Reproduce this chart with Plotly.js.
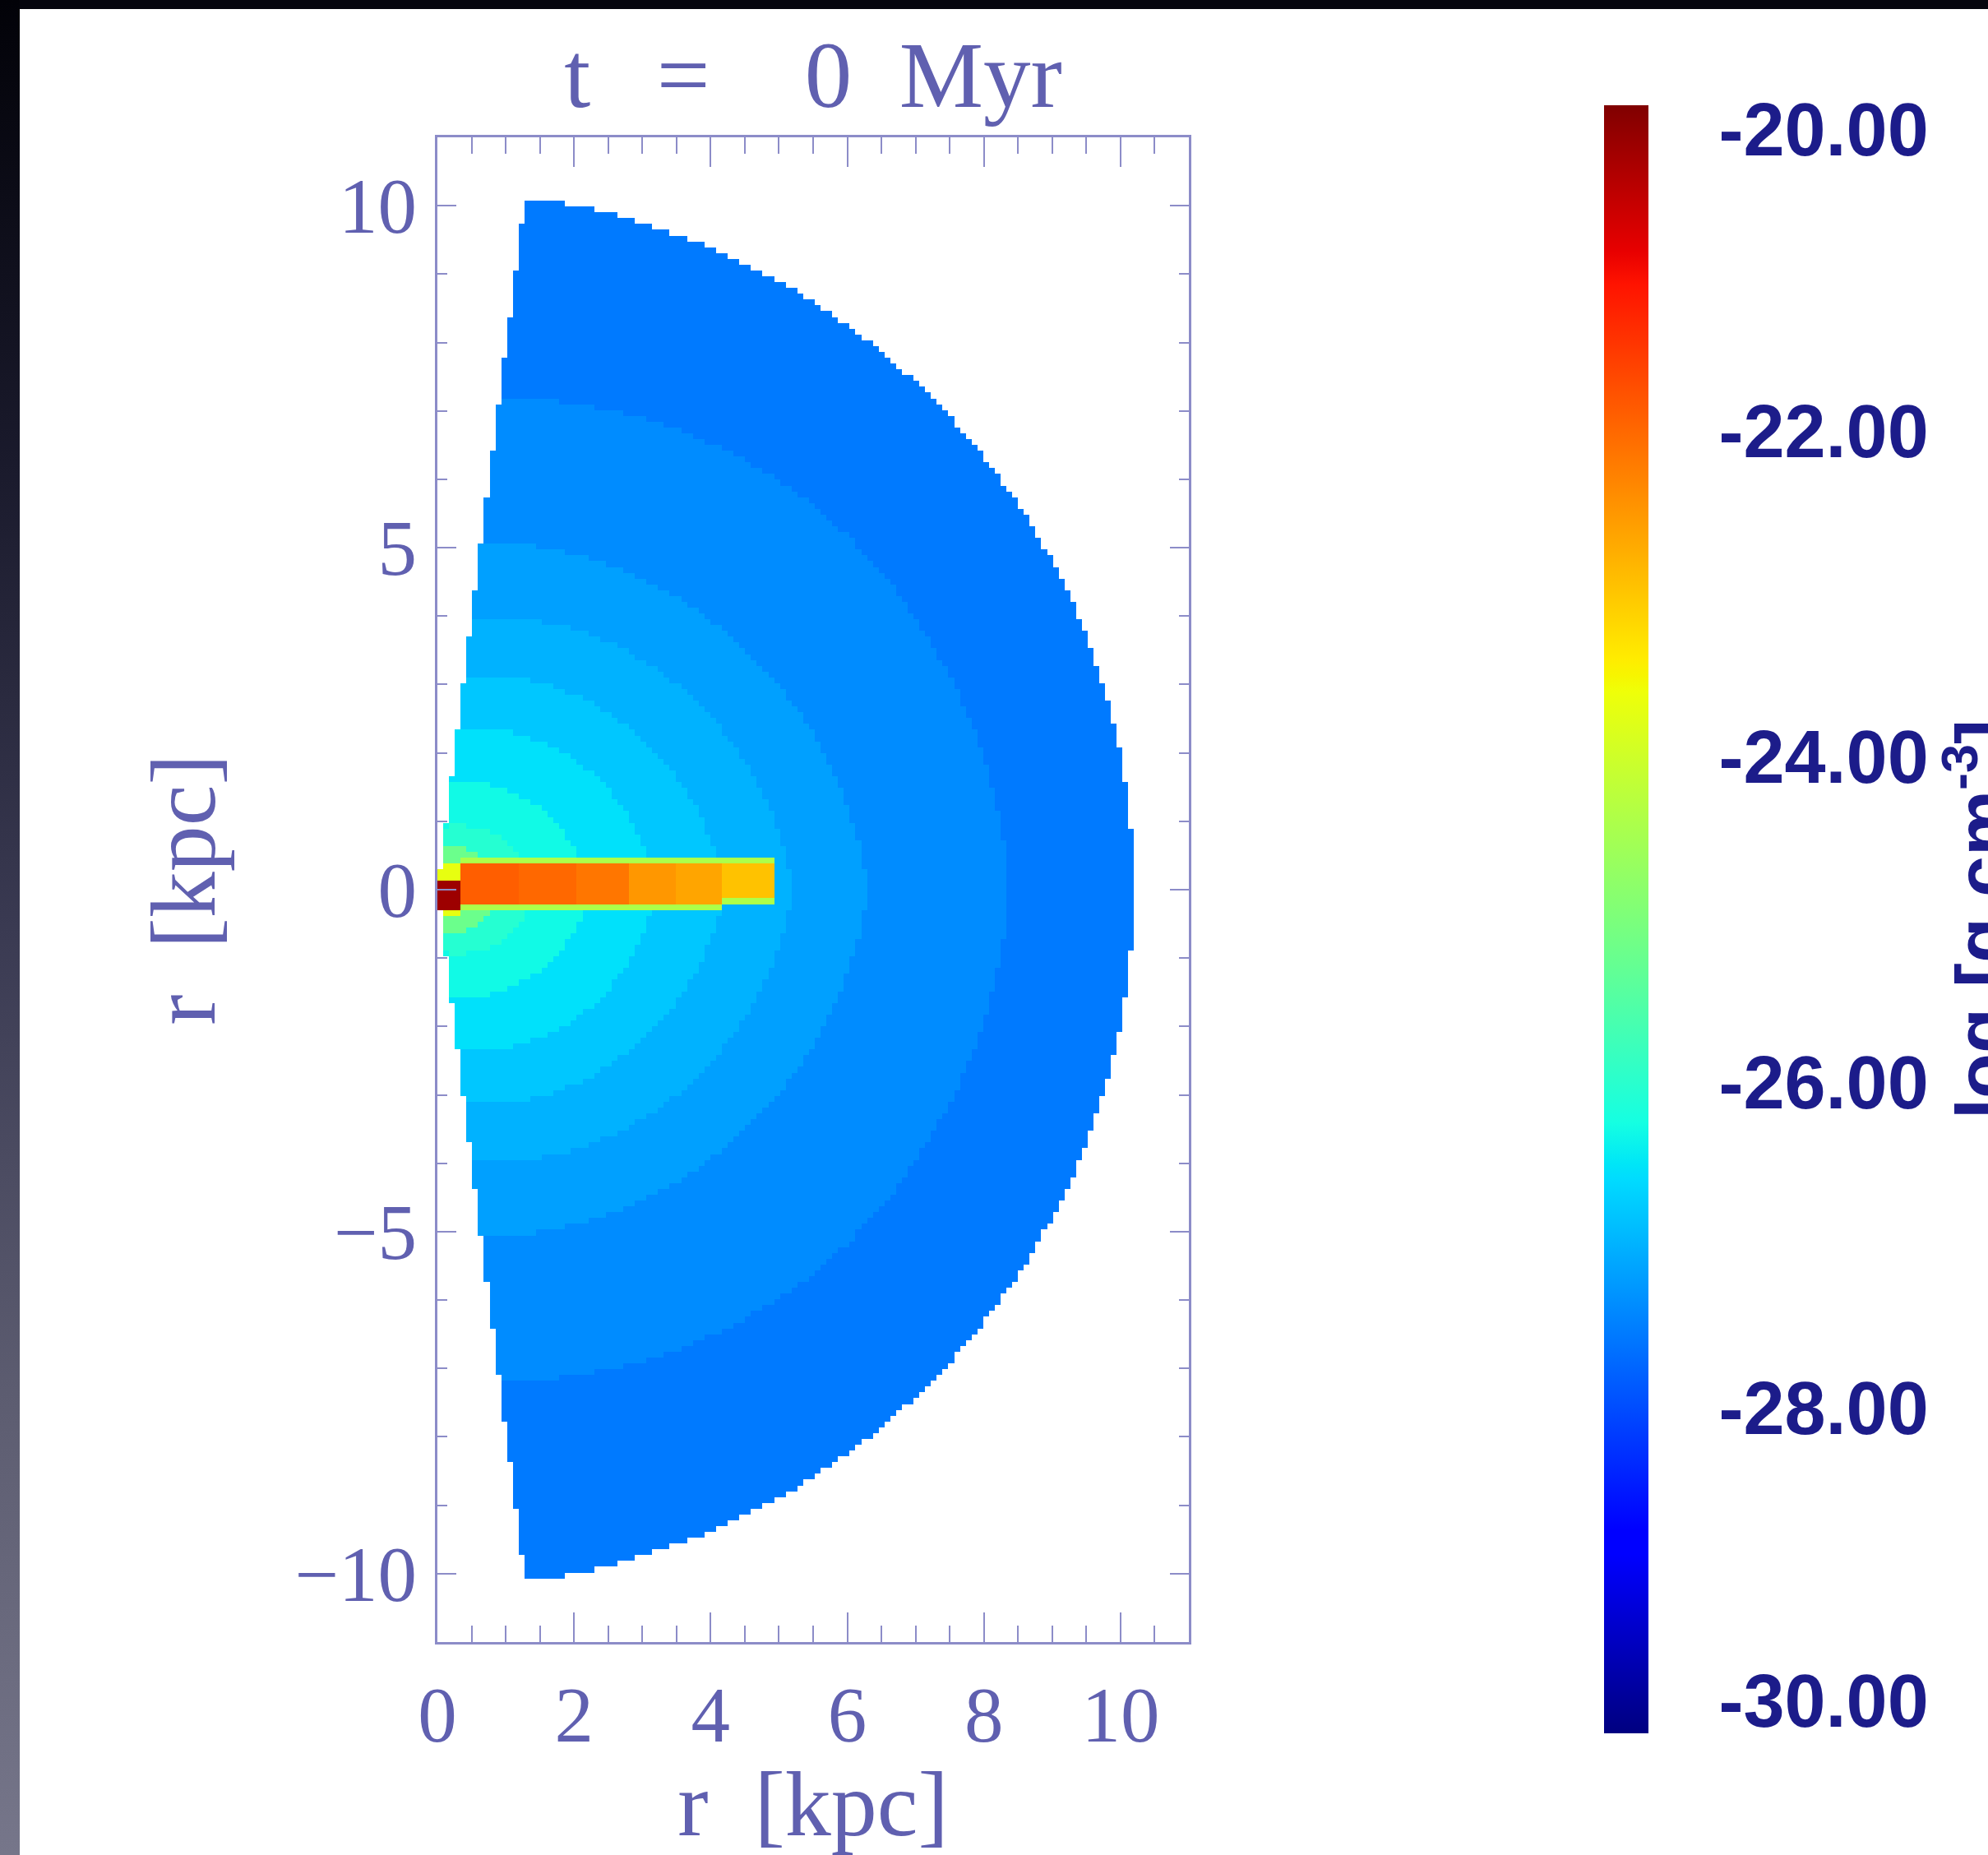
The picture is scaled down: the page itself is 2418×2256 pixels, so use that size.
<!DOCTYPE html>
<html>
<head>
<meta charset="utf-8">
<script src="https://cdn.plot.ly/plotly-3.0.1.min.js"></script>
<style>
html, body { margin:0; padding:0; width:2418px; height:2256px; overflow:hidden; background:#05050e; }
#leftstrip { position:absolute; left:0; top:0; width:24px; height:2256px;
  background:linear-gradient(to bottom, #020208 0%, #1a1a2c 25%, #3a3a52 50%, #5c5c70 75%, #76768a 100%); }
#panel { position:absolute; left:24px; top:11px; width:2394px; height:2245px; background:#ffffff; }
#chart { position:absolute; left:0; top:0; width:2500px; height:2256px; }
</style>
</head>
<body>
<div id="leftstrip"></div>
<div id="panel"></div>
<div id="chart"></div>
<script>
// ---------------- text ----------------
const titleText = 't\u00a0\u00a0\u2009=\u00a0\u00a0\u00a0\u00a00\u00a0\u00a0Myr';
const xAxisLabel = 'r\u00a0\u00a0[kpc]';
const yAxisLabel = 'r\u00a0\u00a0[kpc]';
const colorbarLabel = 'log [g cm<sup>-3</sup>]';

// ---------------- axes / ticks ----------------
const xRange = [0, 11];
const yRange = [-11, 11];
const xTickVals = [0, 2, 4, 6, 8, 10];
const yTickVals = [-10, -5, 0, 5, 10];
const cbTickVals = [-29.8, -28, -26, -24, -22, -20.15];
const cbTickText = ['-30.00', '-28.00', '-26.00', '-24.00', '-22.00', '-20.00'];
const zMin = -30, zMax = -20;

// ---------------- wedge geometry ----------------
const rOuter = 10.2;          // kpc, outer radius of the grid
const poleGapDeg = 7.2;       // excluded cone around the z axis (deg)
const cellSize = 0.085;       // kpc, pixel size of the map

// halo bands: outer boundary radius of each band at the mid-plane (0 deg),
// at 45 deg and along the wedge edge, and the log density inside the band
const haloMidR  = [10.2, 8.37, 6.30, 5.20, 4.20, 3.20, 2.25, 1.45, 0.95, 0.55];
const halo45R   = [10.2, 7.88, 5.60, 4.55, 3.60, 2.75, 1.85, 1.15, 0.75, 0.47];
const haloPoleR = [10.2, 7.24, 5.10, 4.00, 3.15, 2.35, 1.55, 0.93, 0.62, 0.40];
const haloLogRho = [-27.55, -27.38, -27.18, -27.00, -26.80, -26.55, -26.30, -26.05, -25.20, -23.70];

// disk segments: radial extent, vertical extent and log density
const diskX0     = [0.00, 0.34, 1.20, 2.00, 2.77, 3.50, 4.14];
const diskX1     = [0.34, 1.20, 2.00, 2.77, 3.50, 4.14, 4.96];
const diskTop    = [0.12, 0.36, 0.36, 0.36, 0.38, 0.38, 0.35];
const diskBottom = [-0.28, -0.24, -0.24, -0.24, -0.25, -0.25, -0.13];
const diskLogRho = [-20.25, -21.90, -22.00, -22.15, -22.50, -22.65, -22.95];
const diskRimLogRho = -24.4;
const diskRimWidth = 0.085;

// ---------------- colours ----------------
const jet = [
  [0.000, 'rgb(0,0,128)'], [0.110, 'rgb(0,0,255)'], [0.125, 'rgb(0,0,255)'],
  [0.340, 'rgb(0,219,255)'], [0.350, 'rgb(0,230,247)'], [0.375, 'rgb(21,255,226)'],
  [0.640, 'rgb(239,255,8)'], [0.650, 'rgb(247,245,0)'], [0.660, 'rgb(255,236,0)'],
  [0.890, 'rgb(255,19,0)'], [0.910, 'rgb(232,0,0)'], [1.000, 'rgb(128,0,0)']
];
const axisColor = '#8c8cc8';
const axisTextColor = '#6060b0';
const cbTextColor = '#1c1c8a';

// ---------------- raster of the map ----------------
const nx = Math.round(xRange[1] / cellSize);
const ny = Math.round((yRange[1] - yRange[0]) / cellSize);
const xc = [], yc = [];
for (let i = 0; i < nx; i++) xc.push((i + 0.5) * cellSize);
for (let j = 0; j < ny; j++) yc.push(-ny / 2 * cellSize + (j + 0.5) * cellSize);

const edgeDeg = 90 - poleGapDeg;
function bandR(k, phi) {
  if (phi <= 45) return haloMidR[k] + (halo45R[k] - haloMidR[k]) * (phi / 45);
  const t = Math.min(1, (phi - 45) / (edgeDeg - 45));
  return halo45R[k] + (haloPoleR[k] - halo45R[k]) * t;
}
function cellValue(x, y) {
  const r = Math.hypot(x, y);
  const phi = Math.atan2(Math.abs(y), x) * 180 / Math.PI;
  if (r > rOuter || phi > edgeDeg) return null;
  for (let s = 0; s < diskX0.length; s++) {
    if (x >= diskX0[s] && x < diskX1[s]) {
      if (y >= diskBottom[s] && y <= diskTop[s]) return diskLogRho[s];
      if (s > 0 && ((y > diskTop[s] && y <= diskTop[s] + diskRimWidth) ||
                    (y < diskBottom[s] && y >= diskBottom[s] - diskRimWidth))) return diskRimLogRho;
    }
  }
  for (let k = haloLogRho.length - 1; k >= 0; k--) {
    if (r <= bandR(k, phi)) return haloLogRho[k];
  }
  return null;
}
const z = [];
for (let j = 0; j < ny; j++) {
  const row = [];
  for (let i = 0; i < nx; i++) row.push(cellValue(xc[i], yc[j]));
  z.push(row);
}

// ---------------- plot ----------------
const W = 2500, H = 2256;
const plotL = 532, plotR = 1446, plotT = 167, plotB = 1997;
const axisFont = { family: 'Liberation Serif', size: 95, color: axisTextColor };
const axisTitleFont = { family: 'Liberation Serif', size: 112, color: axisTextColor };
const cbFont = { family: 'Liberation Sans', size: 90, color: cbTextColor, weight: 'bold' };

const trace = {
  type: 'heatmap', x: xc, y: yc, z: z,
  zmin: zMin, zmax: zMax, colorscale: jet, zsmooth: false,
  hoverinfo: 'skip',
  colorbar: {
    x: (1951 - plotL) / (plotR - plotL), xanchor: 'left', xpad: 0,
    y: (plotB - 1118) / (plotB - plotT), yanchor: 'middle', ypad: 0,
    len: 1980, lenmode: 'pixels', thickness: 54, thicknessmode: 'pixels',
    outlinewidth: 0,
    tickmode: 'array', tickvals: cbTickVals, ticktext: cbTickText,
    ticks: 'outside', ticklen: 68, tickcolor: 'rgba(0,0,0,0)',
    tickfont: cbFont,
    title: { text: colorbarLabel, side: 'right', font: cbFont }
  }
};

const commonAxis = {
  showline: true, linewidth: 3, linecolor: axisColor, mirror: 'ticks',
  ticks: 'inside', tickwidth: 2, tickcolor: axisColor,
  showgrid: false, zeroline: false, tickfont: axisFont, fixedrange: true
};

const layout = {
  width: W, height: H,
  paper_bgcolor: 'rgba(0,0,0,0)', plot_bgcolor: 'rgba(0,0,0,0)',
  margin: { l: plotL, r: W - plotR, t: plotT, b: H - plotB, autoexpand: false },
  showlegend: false,
  title: {
    text: titleText, x: 0.5, xref: 'paper', xanchor: 'center',
    y: 1 - 90 / H, yref: 'container', yanchor: 'middle',
    font: { family: 'Liberation Serif', size: 115, color: axisTextColor }
  },
  xaxis: Object.assign({}, commonAxis, {
    range: xRange, tickmode: 'array', tickvals: xTickVals, ticklen: 36,
    ticklabelstandoff: 4,
    minor: { tick0: 0, dtick: 0.5, ticks: 'inside', ticklen: 20, tickwidth: 2, tickcolor: axisColor, showgrid: false },
    title: { text: xAxisLabel, font: axisTitleFont, standoff: 50 }
  }),
  yaxis: Object.assign({}, commonAxis, {
    range: yRange, tickmode: 'array', tickvals: yTickVals, ticklen: 23,
    ticklabelstandoff: 3,
    minor: { tick0: 0, dtick: 1, ticks: 'inside', ticklen: 12, tickwidth: 2, tickcolor: axisColor, showgrid: false },
    title: { text: yAxisLabel, font: axisTitleFont, standoff: 60 }
  })
};

Plotly.newPlot('chart', [trace], layout, { staticPlot: true, displayModeBar: false });
</script>
</body>
</html>
